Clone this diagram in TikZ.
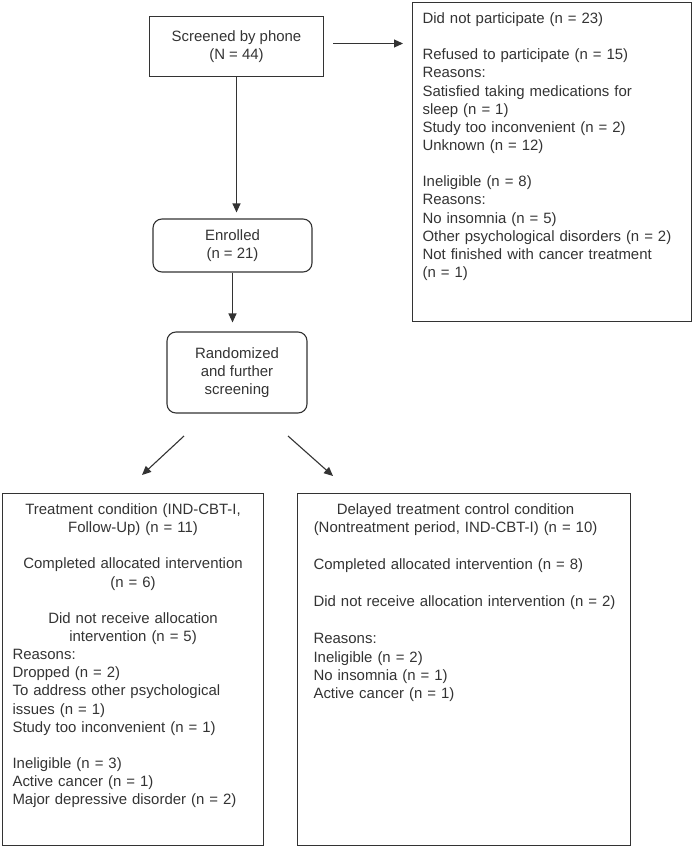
\documentclass[tikz,border=0pt]{standalone}
\usepackage{fontspec}
\setmainfont{Liberation Sans}
\usetikzlibrary{arrows.meta}

\newcommand{\midline}[2][\linewidth]{\makebox[#1][c]{#2}}

\begin{document}
\begin{tikzpicture}[x=1bp, y=-1bp, line width=1.1bp,
				    >={Triangle[length=9bp, width=8bp]},
				    every node/.style={text=black!80, font=\fontsize{15}{18.2}\selectfont},
				    every edge/.append style={draw=black!80},
				    stage/.style={draw=black!80, align=center, inner sep=0pt},
				    roundstage/.style={stage, rounded corners=9bp},
				    listbox/.style={draw=black!80, align=left, anchor=north west,
				    			  inner ysep=10bp, text height=11bp}]
	\useasboundingbox (0,0) rectangle (692,847);

	\node[stage, minimum width=174bp, minimum height=60bp] (screen) at (236.5, 46.5) {Screened by phone\\(N = 44)};
	\node[roundstage, minimum width=159bp, minimum height=53bp] (enrol) at (232.5, 245.5) {Enrolled\\(n = 21)};
	\node[roundstage, minimum width=140bp, minimum height=81bp] (rand) at (237, 372.5) {Randomized\\and further\\screening};

	\node[listbox, inner xsep=10bp, text width=259bp, text depth=288bp] (notpart) at (412, 2)
		{Did not participate (n = 23)\\[18.2pt]
		 Refused to participate (n = 15)\\
		 Reasons:\\
		 Satisfied taking medications for\\
		 sleep (n = 1)\\
		 Study too inconvenient (n = 2)\\
		 Unknown (n = 12)\\[18.2pt]
		 Ineligible (n = 8)\\
		 Reasons:\\
		 No insomnia (n = 5)\\
		 Other psychological disorders (n = 2)\\
		 Not finished with cancer treatment\\
		 (n = 1)};

	\node[listbox, inner xsep=10bp, text width=241bp, text depth=321bp] (treat) at (2, 493)
		{\midline{Treatment condition (IND-CBT-I,}\\
		 \midline{Follow-Up) (n = 11)}\\[18.2pt]
		 \midline{Completed allocated intervention}\\
		 \midline{(n = 6)}\\[18.2pt]
		 \midline{Did not receive allocation}\\
		 \midline{intervention (n = 5)}\\
		 Reasons:\\
		 Dropped (n = 2)\\
		 To address other psychological\\
		 issues (n = 1)\\
		 Study too inconvenient (n = 1)\\[18.2pt]
		 Ineligible (n = 3)\\
		 Active cancer (n = 1)\\
		 Major depressive disorder (n = 2)};

	\node[listbox, inner xsep=16bp, text width=301bp, text depth=321bp,
		  font=\fontsize{15}{18.5}\selectfont] (ctrl) at (297, 493)
		{\midline[284bp]{Delayed treatment control condition}\\
		 \midline[284bp]{(Nontreatment period, IND-CBT-I) (n = 10)}\\[18.5pt]
		 Completed allocated intervention (n = 8)\\[18.5pt]
		 \mbox{Did not receive allocation intervention (n = 2)}\\[18.5pt]
		 Reasons:\\
		 Ineligible (n = 2)\\
		 No insomnia (n = 1)\\
		 Active cancer (n = 1)};

	\coordinate (phoneout) at ([yshift=3bp]screen.east);
	\coordinate (randl) at (184, 436);
	\coordinate (treatin) at (142, 475);
	\coordinate (randr) at (288, 436);
	\coordinate (ctrlin) at (333, 476);

	\path[->] 	(screen)  edge[shorten >=6bp]   (screen.south |- enrol.north);
	\path[->] 	(phoneout)  edge[shorten <=9bp, shorten >=9bp]   (phoneout -| notpart.west);
	\path[->] 	(enrol)  edge[shorten >=9bp]   (enrol.south |- rand.north);
	\path[->] 	(randl)  edge   (treatin);
	\path[->] 	(randr)  edge   (ctrlin);

\end{tikzpicture}
\end{document}
